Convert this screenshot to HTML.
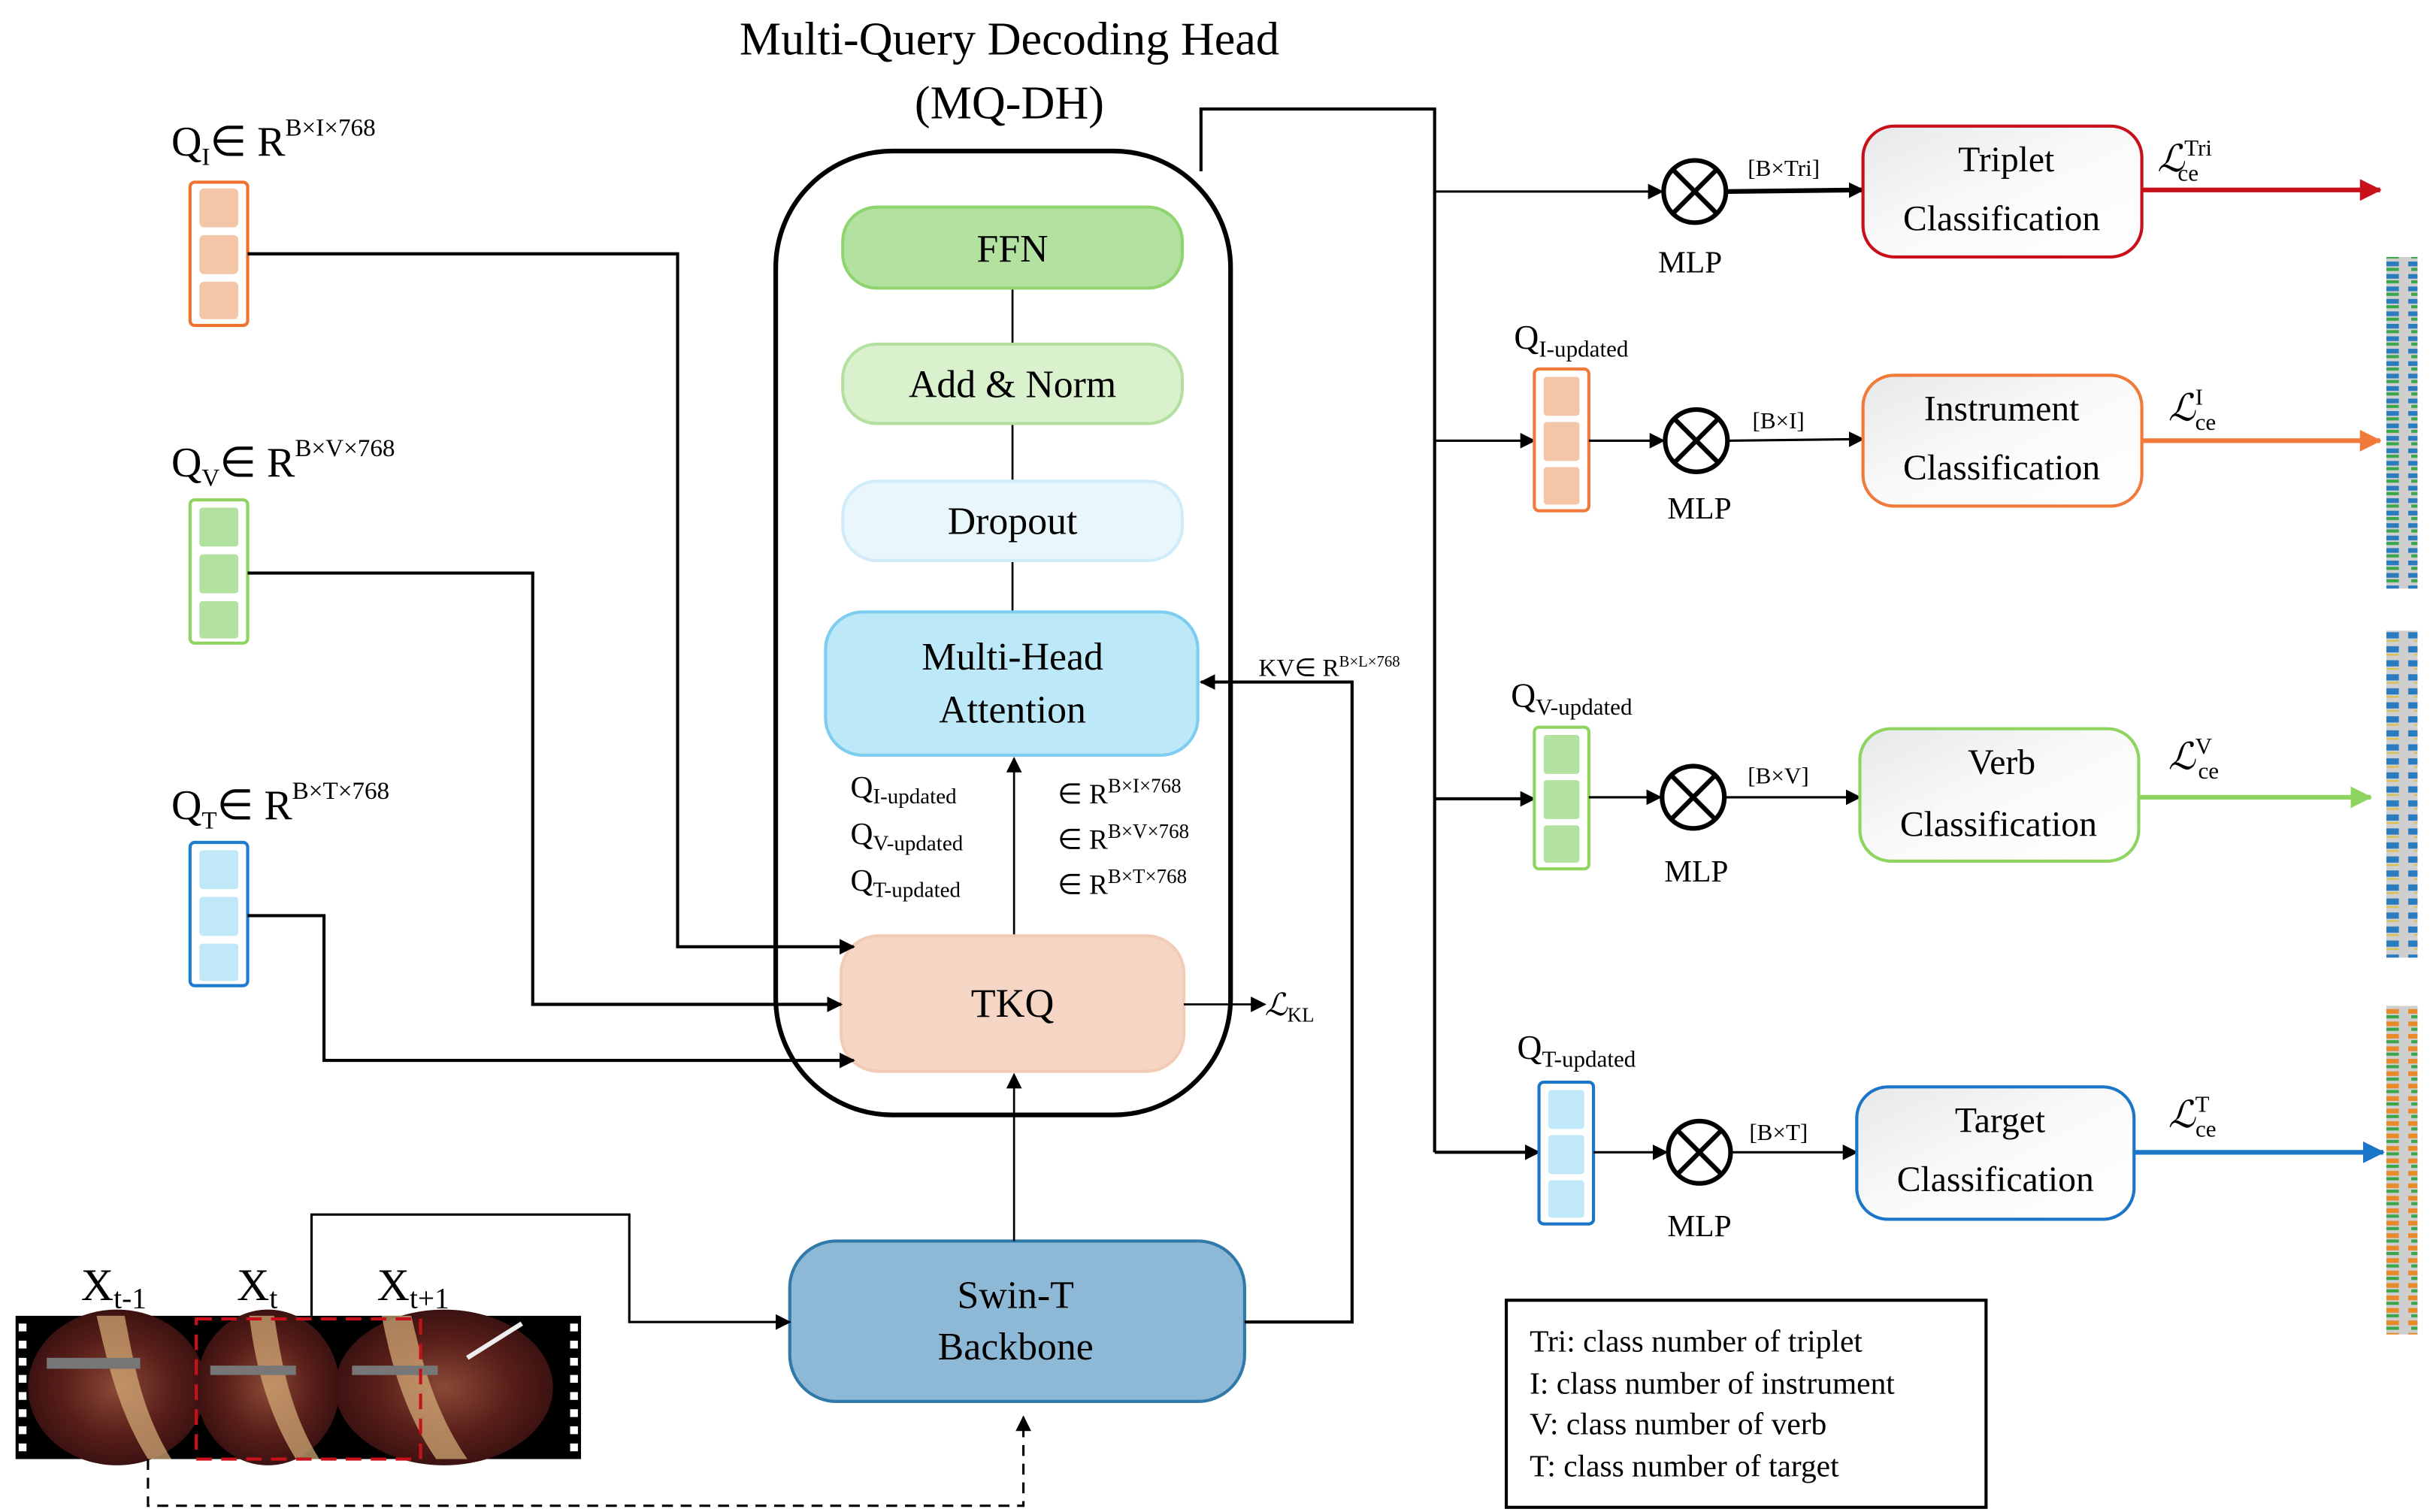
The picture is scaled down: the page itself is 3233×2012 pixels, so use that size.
<!DOCTYPE html>
<html><head><meta charset="utf-8"><style>
html,body{margin:0;padding:0;background:#fff;}
svg{display:block;}
text{font-family:"Liberation Serif",serif;fill:#000;}
</style></head><body>
<svg width="3233" height="2012" viewBox="0 0 1560 971" preserveAspectRatio="none" xmlns="http://www.w3.org/2000/svg" font-family="Liberation Serif, serif">
<defs>
<marker id="ah" markerWidth="10" markerHeight="10" refX="9" refY="5" orient="auto" markerUnits="userSpaceOnUse"><path d="M0,0 L10,5 L0,10 z" fill="#000"/></marker>
<marker id="ahr" markerWidth="14" markerHeight="14" refX="13" refY="7" orient="auto" markerUnits="userSpaceOnUse"><path d="M0,0 L14,7 L0,14 z" fill="#c8101a"/></marker>
<marker id="aho" markerWidth="14" markerHeight="14" refX="13" refY="7" orient="auto" markerUnits="userSpaceOnUse"><path d="M0,0 L14,7 L0,14 z" fill="#f07a3a"/></marker>
<marker id="ahg" markerWidth="14" markerHeight="14" refX="13" refY="7" orient="auto" markerUnits="userSpaceOnUse"><path d="M0,0 L14,7 L0,14 z" fill="#8fd460"/></marker>
<marker id="ahb" markerWidth="14" markerHeight="14" refX="13" refY="7" orient="auto" markerUnits="userSpaceOnUse"><path d="M0,0 L14,7 L0,14 z" fill="#1b75c9"/></marker>
<linearGradient id="cls" x1="0" y1="0" x2="1" y2="1"><stop offset="0" stop-color="#e6e8ea"/><stop offset="0.5" stop-color="#fafafa"/><stop offset="1" stop-color="#fff"/></linearGradient>
<radialGradient id="img" cx="0.5" cy="0.5" r="0.6"><stop offset="0" stop-color="#8a4a36"/><stop offset="0.5" stop-color="#5a1f1a"/><stop offset="0.85" stop-color="#3a1210"/><stop offset="1" stop-color="#111"/></radialGradient>
<pattern id="st1" width="20" height="8" patternUnits="userSpaceOnUse"><rect width="20" height="8" fill="#cfcfcf"/><rect x="6" y="0" width="14" height="3" fill="#2b7bbf"/><rect x="8" y="4" width="12" height="2" fill="#3aa64a"/></pattern>
<pattern id="st2" width="20" height="9" patternUnits="userSpaceOnUse"><rect width="20" height="9" fill="#cfcfcf"/><rect x="6" y="1" width="14" height="4" fill="#2b7bbf"/><rect x="10" y="6" width="10" height="1" fill="#d8c040"/></pattern>
<pattern id="st3" width="20" height="8" patternUnits="userSpaceOnUse"><rect width="20" height="8" fill="#cfcfcf"/><rect x="6" y="0" width="14" height="3" fill="#e88a2a"/><rect x="8" y="4" width="12" height="2" fill="#3aa64a"/></pattern>
</defs>

<text x="648" y="35" font-size="30" text-anchor="middle">Multi-Query Decoding Head</text>
<text x="648" y="76" font-size="30" text-anchor="middle">(MQ-DH)</text>

<rect x="498" y="97" width="292" height="619" rx="75" fill="#fff" stroke="#000" stroke-width="3"/>

<line x1="650" y1="185" x2="650" y2="393" stroke="#000" stroke-width="1.3"/>
<rect x="541" y="133" width="218" height="52" rx="22" fill="#b3e2a0" stroke="#8fd46f" stroke-width="2"/>
<text x="650" y="168" font-size="25" text-anchor="middle">FFN</text>
<rect x="541" y="221" width="218" height="51" rx="22" fill="#d9f1cd" stroke="#b3e0a0" stroke-width="2"/>
<text x="650" y="255" font-size="25" text-anchor="middle">Add &amp; Norm</text>
<rect x="541" y="309" width="218" height="51" rx="22" fill="#e9f6fc" stroke="#d0ecf8" stroke-width="2"/>
<text x="650" y="343" font-size="25" text-anchor="middle">Dropout</text>
<rect x="530" y="393" width="239" height="92" rx="24" fill="#bde8f7" stroke="#7ccdef" stroke-width="2"/>
<text x="650" y="430" font-size="25" text-anchor="middle">Multi-Head</text>
<text x="650" y="464" font-size="25" text-anchor="middle">Attention</text>

<text x="546" y="512" font-size="20">Q<tspan font-size="14" dy="4">I-updated</tspan></text>
<text x="546" y="542" font-size="20">Q<tspan font-size="14" dy="4">V-updated</tspan></text>
<text x="546" y="572" font-size="20">Q<tspan font-size="14" dy="4">T-updated</tspan></text>
<text x="679" y="516" font-size="18">∈ R<tspan font-size="13" dy="-7">B×I×768</tspan></text>
<text x="679" y="545" font-size="18">∈ R<tspan font-size="13" dy="-7">B×V×768</tspan></text>
<text x="679" y="574" font-size="18">∈ R<tspan font-size="13" dy="-7">B×T×768</tspan></text>
<line x1="651" y1="601" x2="651" y2="487" stroke="#000" stroke-width="1.3" marker-end="url(#ah)"/>

<rect x="540" y="601" width="220" height="87" rx="24" fill="#f5d5c3" stroke="#f2cbb6" stroke-width="2"/>
<text x="650" y="653" font-size="26" text-anchor="middle">TKQ</text>
<line x1="760" y1="645" x2="812" y2="645" stroke="#000" stroke-width="1.3" marker-end="url(#ah)"/>
<text x="812" y="652" font-size="20" font-style="italic">ℒ<tspan font-size="13" font-style="normal" dy="4">KL</tspan></text>

<rect x="507" y="797" width="292" height="103" rx="30" fill="#8db8d6" stroke="#2f7aa8" stroke-width="2"/>
<text x="652" y="840" font-size="25" text-anchor="middle">Swin-T</text>
<text x="652" y="873" font-size="25" text-anchor="middle">Backbone</text>
<line x1="651" y1="797" x2="651" y2="690" stroke="#000" stroke-width="1.3" marker-end="url(#ah)"/>
<polyline points="799,849 868,849 868,438 771,438" fill="none" stroke="#000" stroke-width="2" marker-end="url(#ah)"/>
<text x="808" y="434" font-size="16">KV∈ R<tspan font-size="10" dy="-6">B×L×768</tspan></text>

<text x="110" y="100" font-size="27">Q<tspan font-size="16" dy="6">I</tspan><tspan dy="-6">∈ R</tspan><tspan font-size="16" dy="-13">B×I×768</tspan></text>
<rect x="122" y="117" width="37" height="92" rx="3" fill="#fff" stroke="#f0722f" stroke-width="2"/>
<rect x="128" y="121" width="25" height="25" rx="3" fill="#f5c5a8"/><rect x="128" y="151" width="25" height="25" rx="3" fill="#f5c5a8"/><rect x="128" y="181" width="25" height="24" rx="3" fill="#f5c5a8"/>
<polyline points="159,163 435,163 435,608 548,608" fill="none" stroke="#000" stroke-width="2" marker-end="url(#ah)"/>

<text x="110" y="306" font-size="27">Q<tspan font-size="16" dy="6">V</tspan><tspan dy="-6">∈ R</tspan><tspan font-size="16" dy="-13">B×V×768</tspan></text>
<rect x="122" y="321" width="37" height="92" rx="3" fill="#fff" stroke="#8fd460" stroke-width="2"/>
<rect x="128" y="326" width="25" height="25" rx="2" fill="#b3e2a0"/><rect x="128" y="356" width="25" height="25" rx="2" fill="#b3e2a0"/><rect x="128" y="386" width="25" height="24" rx="2" fill="#b3e2a0"/>
<polyline points="159,368 342,368 342,645 540,645" fill="none" stroke="#000" stroke-width="2" marker-end="url(#ah)"/>

<text x="110" y="526" font-size="27">Q<tspan font-size="16" dy="6">T</tspan><tspan dy="-6">∈ R</tspan><tspan font-size="16" dy="-13">B×T×768</tspan></text>
<rect x="122" y="541" width="37" height="92" rx="3" fill="#fff" stroke="#1f7bd0" stroke-width="2"/>
<rect x="128" y="546" width="25" height="25" rx="2" fill="#c0e8f8"/><rect x="128" y="576" width="25" height="25" rx="2" fill="#c0e8f8"/><rect x="128" y="606" width="25" height="24" rx="2" fill="#c0e8f8"/>
<polyline points="159,588 208,588 208,681 548,681" fill="none" stroke="#000" stroke-width="2" marker-end="url(#ah)"/>

<!-- film strip -->
<rect x="10" y="845" width="363" height="92" fill="#000"/>
<g fill="#fff">
<rect x="12" y="850" width="5" height="5"/><rect x="12" y="861" width="5" height="5"/><rect x="12" y="872" width="5" height="5"/><rect x="12" y="883" width="5" height="5"/><rect x="12" y="894" width="5" height="5"/><rect x="12" y="905" width="5" height="5"/><rect x="12" y="916" width="5" height="5"/><rect x="12" y="927" width="5" height="5"/>
<rect x="366" y="850" width="5" height="5"/><rect x="366" y="861" width="5" height="5"/><rect x="366" y="872" width="5" height="5"/><rect x="366" y="883" width="5" height="5"/><rect x="366" y="894" width="5" height="5"/><rect x="366" y="905" width="5" height="5"/><rect x="366" y="916" width="5" height="5"/><rect x="366" y="927" width="5" height="5"/>
</g>
<ellipse cx="75" cy="891" rx="57" ry="50" fill="url(#img)"/>
<path d="M62,845 C68,870 75,905 95,937 L110,937 C90,905 85,870 80,845 Z" fill="#d9b07a" opacity="0.7"/>
<ellipse cx="172" cy="891" rx="46" ry="50" fill="url(#img)"/>
<path d="M160,845 C163,870 170,905 190,937 L205,937 C185,905 180,870 176,845 Z" fill="#d9b07a" opacity="0.7"/>
<ellipse cx="285" cy="891" rx="70" ry="50" fill="url(#img)"/>
<path d="M245,845 C250,870 258,905 280,937 L300,937 C278,905 270,870 264,845 Z" fill="#d9b07a" opacity="0.7"/>
<rect x="30" y="872" width="60" height="7" fill="#777"/>
<rect x="135" y="877" width="55" height="6" fill="#777"/>
<rect x="226" y="877" width="55" height="6" fill="#777"/>
<line x1="300" y1="872" x2="335" y2="850" stroke="#eee" stroke-width="3"/>
<rect x="126" y="847" width="144" height="90" fill="none" stroke="#c8101a" stroke-width="2" stroke-dasharray="10,6"/>
<text x="52" y="835" font-size="29">X<tspan font-size="19" dy="5">t-1</tspan></text>
<text x="152" y="835" font-size="29">X<tspan font-size="19" dy="5">t</tspan></text>
<text x="242" y="835" font-size="29">X<tspan font-size="19" dy="5">t+1</tspan></text>
<polyline points="200,845 200,780 404,780 404,849 507,849" fill="none" stroke="#000" stroke-width="1.5" marker-end="url(#ah)"/>
<polyline points="95,937 95,967 657,967 657,910" fill="none" stroke="#000" stroke-width="1.5" stroke-dasharray="7,5" marker-end="url(#ah)"/>

<polyline points="771,110 771,70 921,70 921,740" fill="none" stroke="#000" stroke-width="2"/>

<!-- Triplet -->
<line x1="921" y1="123" x2="1067" y2="123" stroke="#000" stroke-width="1.5" marker-end="url(#ah)"/>
<circle cx="1088" cy="123" r="20" fill="#fff" stroke="#000" stroke-width="3"/>
<line x1="1074" y1="109" x2="1102" y2="137" stroke="#000" stroke-width="3"/><line x1="1102" y1="109" x2="1074" y2="137" stroke="#000" stroke-width="3"/>
<text x="1085" y="175" font-size="20" text-anchor="middle">MLP</text>
<line x1="1108" y1="123" x2="1196" y2="122" stroke="#000" stroke-width="3" marker-end="url(#ah)"/>
<text x="1122" y="113" font-size="15">[B×Tri]</text>
<rect x="1196" y="81" width="179" height="84" rx="20" fill="url(#cls)" stroke="#c8101a" stroke-width="2"/>
<text x="1288" y="110" font-size="23" text-anchor="middle">Triplet</text>
<text x="1285" y="148" font-size="23" text-anchor="middle">Classification</text>
<line x1="1375" y1="122" x2="1528" y2="122" stroke="#c8101a" stroke-width="3" marker-end="url(#ahr)"/>
<text x="1385" y="110" font-size="24" font-style="italic">ℒ<tspan font-size="15" font-style="normal" dy="-10">Tri</tspan><tspan font-size="15" font-style="normal" dx="-22" dy="16">ce</tspan></text>

<!-- Instrument -->
<text x="972" y="224" font-size="22">Q<tspan font-size="15" dy="5">I-updated</tspan></text>
<line x1="921" y1="283" x2="985" y2="283" stroke="#000" stroke-width="1.5" marker-end="url(#ah)"/>
<rect x="985" y="237" width="35" height="91" rx="3" fill="#fff" stroke="#f07a3a" stroke-width="2"/>
<rect x="991" y="242" width="23" height="25" rx="2" fill="#f5c5a8"/><rect x="991" y="271" width="23" height="25" rx="2" fill="#f5c5a8"/><rect x="991" y="300" width="23" height="24" rx="2" fill="#f5c5a8"/>
<line x1="1020" y1="283" x2="1068" y2="283" stroke="#000" stroke-width="1.5" marker-end="url(#ah)"/>
<circle cx="1089" cy="283" r="20" fill="#fff" stroke="#000" stroke-width="3"/>
<line x1="1075" y1="269" x2="1103" y2="297" stroke="#000" stroke-width="3"/><line x1="1103" y1="269" x2="1075" y2="297" stroke="#000" stroke-width="3"/>
<text x="1091" y="333" font-size="20" text-anchor="middle">MLP</text>
<line x1="1109" y1="283" x2="1196" y2="282" stroke="#000" stroke-width="1.5" marker-end="url(#ah)"/>
<text x="1125" y="275" font-size="15">[B×I]</text>
<rect x="1196" y="241" width="179" height="84" rx="20" fill="url(#cls)" stroke="#f07a3a" stroke-width="2"/>
<text x="1285" y="270" font-size="23" text-anchor="middle">Instrument</text>
<text x="1285" y="308" font-size="23" text-anchor="middle">Classification</text>
<line x1="1375" y1="283" x2="1528" y2="283" stroke="#f07a3a" stroke-width="3" marker-end="url(#aho)"/>
<text x="1392" y="270" font-size="24" font-style="italic">ℒ<tspan font-size="15" font-style="normal" dy="-10">I</tspan><tspan font-size="15" font-style="normal" dx="-5" dy="16">ce</tspan></text>

<!-- Verb -->
<text x="970" y="454" font-size="22">Q<tspan font-size="15" dy="5">V-updated</tspan></text>
<line x1="921" y1="513" x2="985" y2="513" stroke="#000" stroke-width="2" marker-end="url(#ah)"/>
<rect x="985" y="467" width="35" height="91" rx="3" fill="#fff" stroke="#8fd460" stroke-width="2"/>
<rect x="991" y="472" width="23" height="25" rx="2" fill="#b3e2a0"/><rect x="991" y="501" width="23" height="25" rx="2" fill="#b3e2a0"/><rect x="991" y="530" width="23" height="24" rx="2" fill="#b3e2a0"/>
<line x1="1020" y1="512" x2="1066" y2="512" stroke="#000" stroke-width="1.5" marker-end="url(#ah)"/>
<circle cx="1087" cy="512" r="20" fill="#fff" stroke="#000" stroke-width="3"/>
<line x1="1073" y1="498" x2="1101" y2="526" stroke="#000" stroke-width="3"/><line x1="1101" y1="498" x2="1073" y2="526" stroke="#000" stroke-width="3"/>
<text x="1089" y="566" font-size="20" text-anchor="middle">MLP</text>
<line x1="1107" y1="512" x2="1194" y2="512" stroke="#000" stroke-width="1.5" marker-end="url(#ah)"/>
<text x="1122" y="503" font-size="15">[B×V]</text>
<rect x="1194" y="468" width="179" height="85" rx="20" fill="url(#cls)" stroke="#8fd460" stroke-width="2"/>
<text x="1285" y="497" font-size="23" text-anchor="middle">Verb</text>
<text x="1283" y="537" font-size="23" text-anchor="middle">Classification</text>
<line x1="1373" y1="512" x2="1522" y2="512" stroke="#8fd460" stroke-width="3" marker-end="url(#ahg)"/>
<text x="1392" y="494" font-size="24" font-style="italic">ℒ<tspan font-size="15" font-style="normal" dy="-10">V</tspan><tspan font-size="15" font-style="normal" dx="-9" dy="16">ce</tspan></text>

<!-- Target -->
<text x="974" y="680" font-size="22">Q<tspan font-size="15" dy="5">T-updated</tspan></text>
<line x1="921" y1="740" x2="988" y2="740" stroke="#000" stroke-width="2" marker-end="url(#ah)"/>
<rect x="988" y="695" width="35" height="91" rx="3" fill="#fff" stroke="#1b75c9" stroke-width="2"/>
<rect x="994" y="700" width="23" height="25" rx="2" fill="#c0e8f8"/><rect x="994" y="729" width="23" height="25" rx="2" fill="#c0e8f8"/><rect x="994" y="758" width="23" height="24" rx="2" fill="#c0e8f8"/>
<line x1="1023" y1="740" x2="1070" y2="740" stroke="#000" stroke-width="1.5" marker-end="url(#ah)"/>
<circle cx="1091" cy="740" r="20" fill="#fff" stroke="#000" stroke-width="3"/>
<line x1="1077" y1="726" x2="1105" y2="754" stroke="#000" stroke-width="3"/><line x1="1105" y1="726" x2="1077" y2="754" stroke="#000" stroke-width="3"/>
<text x="1091" y="794" font-size="20" text-anchor="middle">MLP</text>
<line x1="1111" y1="740" x2="1192" y2="740" stroke="#000" stroke-width="1.5" marker-end="url(#ah)"/>
<text x="1123" y="732" font-size="15">[B×T]</text>
<rect x="1192" y="698" width="178" height="85" rx="20" fill="url(#cls)" stroke="#1b75c9" stroke-width="2"/>
<text x="1284" y="727" font-size="23" text-anchor="middle">Target</text>
<text x="1281" y="765" font-size="23" text-anchor="middle">Classification</text>
<line x1="1370" y1="740" x2="1530" y2="740" stroke="#1b75c9" stroke-width="3" marker-end="url(#ahb)"/>
<text x="1392" y="724" font-size="24" font-style="italic">ℒ<tspan font-size="15" font-style="normal" dy="-10">T</tspan><tspan font-size="15" font-style="normal" dx="-9" dy="16">ce</tspan></text>

<!-- right strips -->
<rect x="1532" y="165" width="20" height="213" fill="url(#st1)"/>
<rect x="1532" y="405" width="20" height="210" fill="url(#st2)"/>
<rect x="1532" y="646" width="20" height="211" fill="url(#st3)"/>

<!-- legend -->
<rect x="967" y="835" width="308" height="133" fill="#fff" stroke="#000" stroke-width="2"/>
<text x="982" y="868" font-size="20">Tri: class number of triplet</text>
<text x="982" y="895" font-size="20">I: class number of instrument</text>
<text x="982" y="921" font-size="20">V: class number of verb</text>
<text x="982" y="948" font-size="20">T: class number of target</text>
</svg>
</body></html>
